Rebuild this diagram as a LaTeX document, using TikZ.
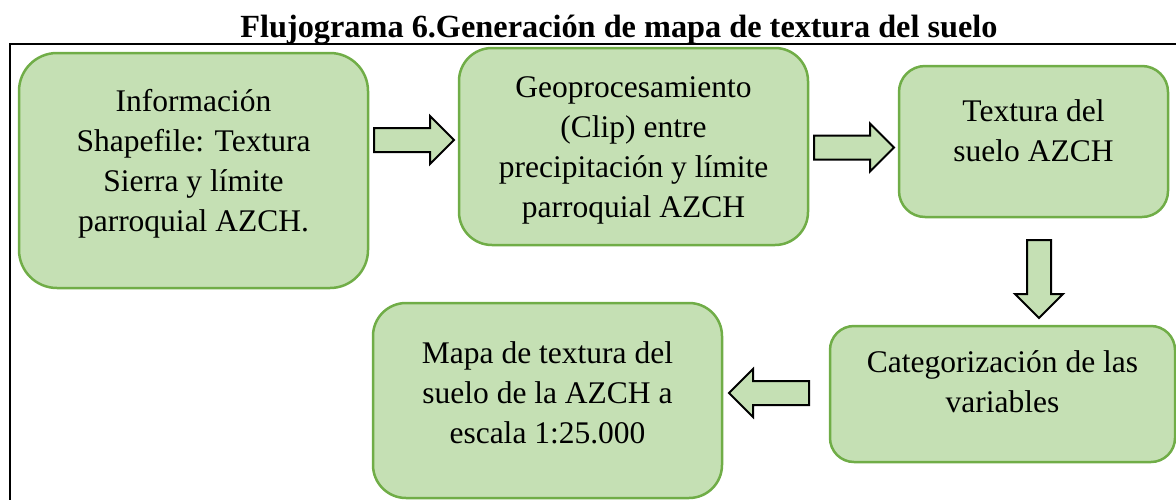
\documentclass[tikz,border=0pt]{standalone}
\usepackage{fontspec}
\setmainfont{Liberation Serif}
\usetikzlibrary{shapes.arrows}
\definecolor{verdeclaro}{HTML}{C5E0B4}
\definecolor{verdeborde}{HTML}{70AD47}
\begin{document}
\begin{tikzpicture}[x=1pt,y=-1pt]
    \tikzset{proceso/.style = {shape=rectangle,draw=verdeborde,fill=verdeclaro,line width=2.5pt,inner sep=0pt}}
    \tikzset{flecha/.style = {shape=single arrow,draw=black,fill=verdeclaro,line width=2pt,inner sep=0pt,inner ysep=11pt,single arrow head extend=12pt,single arrow tip angle=90,single arrow head indent=0pt,minimum width=46pt}}
    \tikzset{texto/.style = {align=center,font=\fontsize{31.5}{40}\selectfont}}
    \useasboundingbox (0,0) rectangle (1176,499);
    % title and frame
    \node[anchor=base,font=\fontsize{32.3}{36}\selectfont\bfseries] (titulo) at (619,37) {Flujograma 6.Generación de mapa de textura del suelo};
    \draw[line width=2pt] (10,44) rectangle (1195,520);
    % boxes of the flow
    \node[proceso,rounded corners=38pt,minimum width=349pt,minimum height=235pt] (info) at (193.5,170.5) {};
    \node[proceso,rounded corners=33pt,minimum width=349pt,minimum height=197pt] (geo) at (633.5,146.5) {};
    \node[proceso,rounded corners=26pt,minimum width=269pt,minimum height=151pt] (textura) at (1033.5,141.5) {};
    \node[proceso,rounded corners=24pt,minimum width=345pt,minimum height=136pt] (categ) at (1002.5,394) {};
    \node[proceso,rounded corners=33pt,minimum width=349pt,minimum height=195pt] (mapa) at (547.5,400.5) {};
    % texts
    \node[texto] (infotexto) at ([yshift=7pt]info.center) {Información\\Shapefile: Textura\\Sierra y límite\\parroquial AZCH.};
    \node[texto] (geotexto) at ([yshift=-4pt]geo.center) {Geoprocesamiento\\(Clip) entre\\precipitación y límite\\parroquial AZCH};
    \node[texto] (texturatexto) at ([yshift=11pt]textura.center) {Textura del\\suelo AZCH};
    \node[texto] (categtexto) at ([yshift=12pt]categ.center) {Categorización de las\\variables};
    \node[texto] (mapatexto) at ([yshift=8pt]mapa.center) {Mapa de textura del\\suelo de la AZCH a\\escala 1:25.000};
    % arrows
    \node[flecha,minimum height=80pt] (f1) at (408,140) {};
    \node[flecha,minimum height=80pt] (f2) at (848,147.5) {};
    \node[flecha,minimum height=78pt,rotate=-90] (f3) at (1039,273) {};
    \node[flecha,minimum height=80pt,rotate=180] (f4) at (775,393) {};
\end{tikzpicture}
\end{document}
